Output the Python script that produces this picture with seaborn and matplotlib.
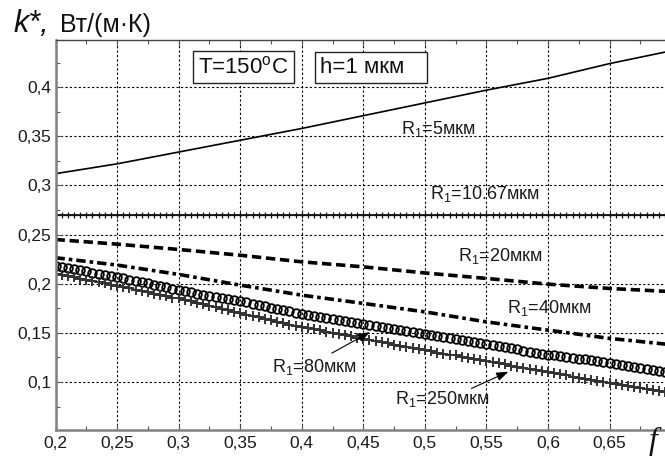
import numpy as np
import pandas as pd
import matplotlib
matplotlib.use("Agg")
import matplotlib.pyplot as plt
import seaborn as sns
from matplotlib.ticker import FixedLocator, FixedFormatter, MultipleLocator

sns.set_theme(style="white")
plt.rcParams['font.family'] = ['Liberation Sans', 'DejaVu Sans']
plt.rcParams['mathtext.fontset'] = 'custom'
plt.rcParams['mathtext.rm'] = 'Liberation Sans'
plt.rcParams['mathtext.it'] = 'Liberation Sans:italic'

# coarse grid for the plain curves
f_coarse = [0.20, 0.25, 0.30, 0.35, 0.40, 0.45, 0.50, 0.55, 0.60, 0.65, 0.70]
k_r5 = [0.312, 0.322, 0.334, 0.346, 0.358, 0.371, 0.384, 0.397, 0.409, 0.424, 0.437]
k_r20 = [0.245, 0.2403, 0.2349, 0.229, 0.2223, 0.2172, 0.211, 0.2054, 0.1996, 0.1952, 0.192]
k_r40 = [0.2265, 0.219, 0.2095, 0.1986, 0.1884, 0.180, 0.1714, 0.1612, 0.1528, 0.1444, 0.138]

# fine grid for the marker curves
f_fine = [0.200, 0.205, 0.210, 0.215, 0.220, 0.225, 0.230, 0.235, 0.240, 0.245,
          0.250, 0.255, 0.260, 0.265, 0.270, 0.275, 0.280, 0.285, 0.290, 0.295,
          0.300, 0.305, 0.310, 0.315, 0.320, 0.325, 0.330, 0.335, 0.340, 0.345,
          0.350, 0.355, 0.360, 0.365, 0.370, 0.375, 0.380, 0.385, 0.390, 0.395,
          0.400, 0.405, 0.410, 0.415, 0.420, 0.425, 0.430, 0.435, 0.440, 0.445,
          0.450, 0.455, 0.460, 0.465, 0.470, 0.475, 0.480, 0.485, 0.490, 0.495,
          0.500, 0.505, 0.510, 0.515, 0.520, 0.525, 0.530, 0.535, 0.540, 0.545,
          0.550, 0.555, 0.560, 0.565, 0.570, 0.575, 0.580, 0.585, 0.590, 0.595,
          0.600, 0.605, 0.610, 0.615, 0.620, 0.625, 0.630, 0.635, 0.640, 0.645,
          0.650, 0.655, 0.660, 0.665, 0.670, 0.675, 0.680, 0.685, 0.690, 0.695,
          0.700]
k_r1067 = [0.27, 0.27, 0.27, 0.27, 0.27, 0.27, 0.27, 0.27, 0.27, 0.27,
           0.27, 0.27, 0.27, 0.27, 0.27, 0.27, 0.27, 0.27, 0.27, 0.27,
           0.27, 0.27, 0.27, 0.27, 0.27, 0.27, 0.27, 0.27, 0.27, 0.27,
           0.27, 0.27, 0.27, 0.27, 0.27, 0.27, 0.27, 0.27, 0.27, 0.27,
           0.27, 0.27, 0.27, 0.27, 0.27, 0.27, 0.27, 0.27, 0.27, 0.27,
           0.27, 0.27, 0.27, 0.27, 0.27, 0.27, 0.27, 0.27, 0.27, 0.27,
           0.27, 0.27, 0.27, 0.27, 0.27, 0.27, 0.27, 0.27, 0.27, 0.27,
           0.27, 0.27, 0.27, 0.27, 0.27, 0.27, 0.27, 0.27, 0.27, 0.27,
           0.27, 0.27, 0.27, 0.27, 0.27, 0.27, 0.27, 0.27, 0.27, 0.27,
           0.27, 0.27, 0.27, 0.27, 0.27, 0.27, 0.27, 0.27, 0.27, 0.27,
           0.27]
k_r80 = [0.218, 0.217, 0.216, 0.215, 0.214, 0.2125, 0.211, 0.210, 0.209, 0.208,
         0.207, 0.206, 0.204, 0.203, 0.202, 0.2005, 0.199, 0.198, 0.197, 0.195,
         0.194, 0.193, 0.192, 0.190, 0.189, 0.188, 0.187, 0.186, 0.184, 0.183,
         0.182, 0.181, 0.179, 0.178, 0.177, 0.1755, 0.174, 0.173, 0.172, 0.170,
         0.169, 0.168, 0.167, 0.166, 0.165, 0.164, 0.163, 0.162, 0.161, 0.160,
         0.159, 0.158, 0.157, 0.156, 0.155, 0.154, 0.153, 0.152, 0.151, 0.150,
         0.149, 0.148, 0.147, 0.146, 0.145, 0.144, 0.143, 0.142, 0.141, 0.140,
         0.139, 0.138, 0.137, 0.136, 0.135, 0.1335, 0.132, 0.131, 0.130, 0.129,
         0.128, 0.127, 0.126, 0.125, 0.124, 0.1235, 0.123, 0.122, 0.121, 0.120,
         0.119, 0.118, 0.117, 0.116, 0.115, 0.114, 0.113, 0.112, 0.111, 0.110,
         0.109]
k_r250 = [0.210, 0.209, 0.2075, 0.2065, 0.205, 0.204, 0.203, 0.2015, 0.2005, 0.199,
          0.198, 0.197, 0.1955, 0.194, 0.193, 0.1915, 0.190, 0.189, 0.1875, 0.186,
          0.185, 0.1835, 0.182, 0.1805, 0.179, 0.1775, 0.176, 0.1745, 0.173, 0.1715,
          0.170, 0.1685, 0.167, 0.166, 0.1645, 0.163, 0.1615, 0.160, 0.1585, 0.157,
          0.156, 0.155, 0.1535, 0.1525, 0.151, 0.150, 0.149, 0.1475, 0.1465, 0.145,
          0.144, 0.143, 0.1415, 0.1405, 0.1395, 0.138, 0.137, 0.136, 0.135, 0.1335,
          0.1325, 0.1315, 0.130, 0.129, 0.128, 0.127, 0.1255, 0.1245, 0.1235, 0.122,
          0.121, 0.120, 0.119, 0.118, 0.1165, 0.1155, 0.1145, 0.1135, 0.112, 0.111,
          0.110, 0.109, 0.108, 0.107, 0.1055, 0.1045, 0.1035, 0.1025, 0.101, 0.100,
          0.099, 0.098, 0.097, 0.096, 0.095, 0.094, 0.093, 0.092, 0.091, 0.090,
          0.089]

x_ticks = [0.2, 0.25, 0.3, 0.35, 0.4, 0.45, 0.5, 0.55, 0.6, 0.65]
x_labels = ['0,2', '0,25', '0,3', '0,35', '0,4', '0,45', '0,5', '0,55', '0,6', '0,65']
y_ticks = [0.1, 0.15, 0.2, 0.25, 0.3, 0.35, 0.4]
y_labels = ['0,1', '0,15', '0,2', '0,25', '0,3', '0,35', '0,4']

# curve labels: text, left x, baseline y
curve_labels = [('R$_\\mathregular{1}$=5мкм', 0.4804, 0.3522),
                ('R$_\\mathregular{1}$=10.67мкм', 0.504, 0.2858),
                ('R$_\\mathregular{1}$=20мкм', 0.5267, 0.2229),
                ('R$_\\mathregular{1}$=40мкм', 0.5665, 0.1698),
                ('R$_\\mathregular{1}$=80мкм', 0.3757, 0.1104),
                ('R$_\\mathregular{1}$=250мкм', 0.4755, 0.0775)]

W, H = 665, 457
fig = plt.figure(figsize=(W / 100, H / 100), dpi=100)
ax = fig.add_axes([55.5 / W, 1 - 430 / H, (W - 55.5) / W, 390 / H])

sns.lineplot(x=f_coarse, y=k_r5, color='black', linewidth=1.2, ax=ax)
sns.lineplot(x=f_fine, y=k_r1067, color='#111111', linewidth=1.3, marker='+',
             markersize=4.5, mec='#111111', mew=0.9, ax=ax)
sns.lineplot(x=f_coarse, y=k_r20, color='black', linewidth=2.6,
             linestyle=(0, (2.6, 1.3)), ax=ax)
sns.lineplot(x=f_coarse, y=k_r40, color='black', linewidth=2.6,
             linestyle=(0, (2.6, 1.1, 1.0, 1.1)), ax=ax)
sns.lineplot(x=f_fine, y=k_r80, color='black', linestyle='', marker='o',
             markersize=6.2, mfc='none', mec='black', mew=1.3, ax=ax)
sns.lineplot(x=f_fine, y=k_r250, color='#222222', linewidth=1.0, marker='+',
             markersize=7, mec='#333333', mew=1.4, ax=ax)

ax.set_xlim(0.2, 0.695)
ax.set_ylim(0.0512, 0.448)
ax.xaxis.set_major_locator(FixedLocator(x_ticks))
ax.xaxis.set_major_formatter(FixedFormatter(x_labels))
ax.yaxis.set_major_locator(FixedLocator(y_ticks))
ax.yaxis.set_major_formatter(FixedFormatter(y_labels))
ax.xaxis.set_minor_locator(MultipleLocator(0.025))
ax.yaxis.set_minor_locator(MultipleLocator(0.025))
ax.grid(True, which='major', color='black', linestyle=(0, (2, 2)), linewidth=0.8)
ax.tick_params(which='both', direction='in', top=True, bottom=True, left=True, right=False,
               color='#555555', labelsize=12.5, labelcolor='#1a1a1a')
ax.tick_params(which='major', length=4, width=0.8)
ax.tick_params(which='minor', length=3, width=0.8)
ax.tick_params(axis='x', pad=4)
ax.tick_params(axis='y', pad=3)
for s in ['left', 'bottom']:
    ax.spines[s].set_color('#808080')
    ax.spines[s].set_linewidth(1.8)
ax.spines['top'].set_color('#444444')
ax.spines['top'].set_linewidth(1.0)
ax.spines['right'].set_visible(False)
ax.set_xlabel('')
ax.set_ylabel('')

for txt, x, y in curve_labels:
    ax.text(x, y, txt, fontsize=13, color='#1a1a1a', ha='left', va='baseline')

arrow_kw = dict(arrowstyle='-|>,head_length=0.6,head_width=0.22', color='black', lw=0.8,
                shrinkA=0, shrinkB=0)
ax.annotate('', xy=(0.4553, 0.1508), xytext=(0.4244, 0.1294), arrowprops=arrow_kw)
ax.annotate('', xy=(0.5678, 0.1105), xytext=(0.5378, 0.0935), arrowprops=arrow_kw)

box_kw = dict(boxstyle='square,pad=0.22', fc='white', ec='#222222', lw=1.0)
ax.text(0.3157, 0.4142, 'T=150$^\\mathregular{o}$C ', fontsize=16, color='#111111',
        ha='left', va='baseline', bbox=box_kw)
ax.text(0.4147, 0.4142, 'h=1 мкм   ', fontsize=16, color='#111111',
        ha='left', va='baseline', bbox=box_kw)

fig.text(13 / W, 1 - 32 / H, 'k*,', fontsize=22, style='italic', color='#111111',
         ha='left', va='baseline')
fig.text(60 / W, 1 - 32 / H, 'Вт/(м·К)', fontsize=18, color='#111111',
         ha='left', va='baseline')
fig.text(653 / W, 1 - 449 / H, 'f', fontsize=23, style='italic', family='Liberation Serif',
         color='#111111', ha='center', va='baseline')

fig.savefig('out.png', dpi=100, facecolor='white')
